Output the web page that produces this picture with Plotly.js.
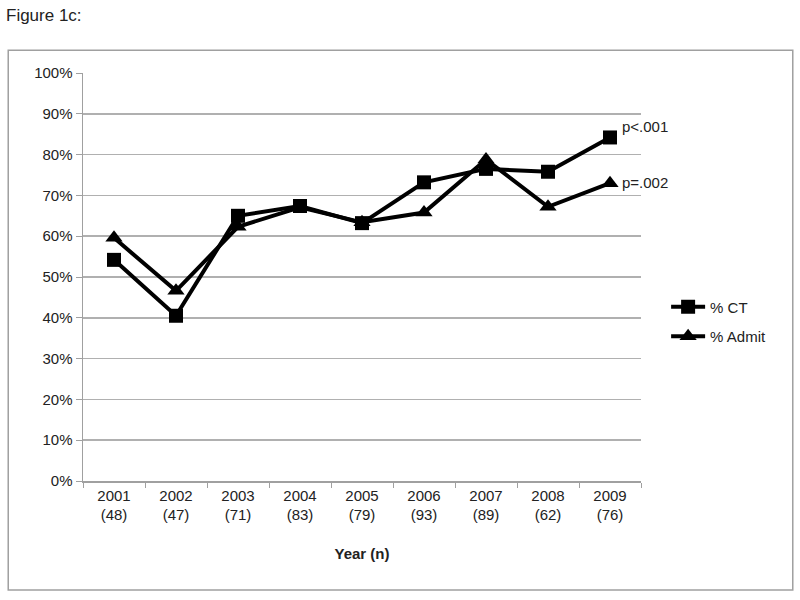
<!DOCTYPE html>
<html>
<head>
<meta charset="utf-8">
<script src="https://cdn.plot.ly/plotly-3.0.1.min.js"></script>
<style>html,body{margin:0;padding:0;background:#fff}#chart{width:800px;height:600px}</style>
</head>
<body>
<div id="chart"></div>
<script>
const years = ["2001", "2002", "2003", "2004", "2005", "2006", "2007", "2008", "2009"];
const counts = [48, 47, 71, 83, 79, 93, 89, 62, 76];
const pctCT = [54.2, 40.5, 65.0, 67.4, 63.2, 73.2, 76.5, 75.8, 84.2];
const pctAdmit = [59.6, 46.6, 62.3, 67.1, 63.4, 65.8, 78.8, 67.2, 73.0];
const seriesNames = ["% CT", "% Admit"];
const pLabels = ["p<.001", "p=.002"];
const yTicks = [0, 10, 20, 30, 40, 50, 60, 70, 80, 90, 100];

const cats = years.map((y, i) => y + "<br>(" + counts[i] + ")");
const font = "Liberation Sans, Arial, sans-serif";

const traces = [
  {x: cats, y: pctCT, name: seriesNames[0], legendgroup: "a", type: "scatter", mode: "lines+markers",
   line: {color: "#000", width: 4}, marker: {symbol: "square", size: 14, color: "#000"}},
  {x: cats, y: pctAdmit, name: seriesNames[1], legendgroup: "b", type: "scatter", mode: "lines+markers",
   line: {color: "#000", width: 4}, marker: {symbol: "triangle-up", size: 15, color: "#000"}}
];

const last = cats.length - 1;
const layout = {
  width: 800, height: 600,
  margin: {l: 83, r: 159, t: 73, b: 119},
  paper_bgcolor: "#fff", plot_bgcolor: "#fff",
  font: {family: font, size: 15, color: "#222"},
  showlegend: true,
  legend: {x: 1.045, y: 0.467, xanchor: "left", yanchor: "top", font: {size: 15, color: "#222"},
           bgcolor: "rgba(0,0,0,0)", tracegroupgap: 7, itemwidth: 34},
  xaxis: {type: "category", range: [-0.5, cats.length - 0.5], autorange: false,
          tickson: "boundaries", ticks: "outside", ticklen: 5, tickcolor: "#a0a0a0",
          showline: true, linecolor: "#a0a0a0", linewidth: 1.5, showgrid: false, zeroline: false,
          tickfont: {size: 15, color: "#222"},
          title: {text: "<b>Year (n)</b>", font: {size: 15, color: "#222"}, standoff: 26}},
  yaxis: {range: [0, 100], autorange: false, tickvals: yTicks, ticktext: yTicks.map(v => v + "%"),
          ticks: "outside", ticklen: 6, tickcolor: "#a0a0a0",
          showline: true, linecolor: "#a0a0a0", linewidth: 1.5,
          showgrid: true, gridcolor: "#b0b0b0", gridwidth: 1.5, zeroline: false,
          tickfont: {size: 15, color: "#222"}},
  annotations: [
    {text: "Figure 1c:", xref: "paper", yref: "paper", x: -0.142, y: 1.142, xanchor: "left", yanchor: "middle",
     showarrow: false, font: {size: 17, color: "#222"}},
    {text: pLabels[0], x: cats[last], y: pctCT[last], xanchor: "left", yanchor: "bottom",
     xshift: 10, yshift: 0, showarrow: false, font: {size: 15, color: "#222"}},
    {text: pLabels[1], x: cats[last], y: pctAdmit[last], xanchor: "left", yanchor: "middle",
     xshift: 10, yshift: 1, showarrow: false, font: {size: 15, color: "#222"}}
  ],
  shapes: [
    {type: "rect", xref: "paper", yref: "paper", x0: -0.134, x1: 1.272, y0: -0.267, y1: 1.056,
     line: {color: "#a0a0a0", width: 1.5}, fillcolor: "rgba(0,0,0,0)", layer: "below"}
  ]
};

Plotly.newPlot("chart", traces, layout, {displayModeBar: false, staticPlot: true});
</script>
</body>
</html>
